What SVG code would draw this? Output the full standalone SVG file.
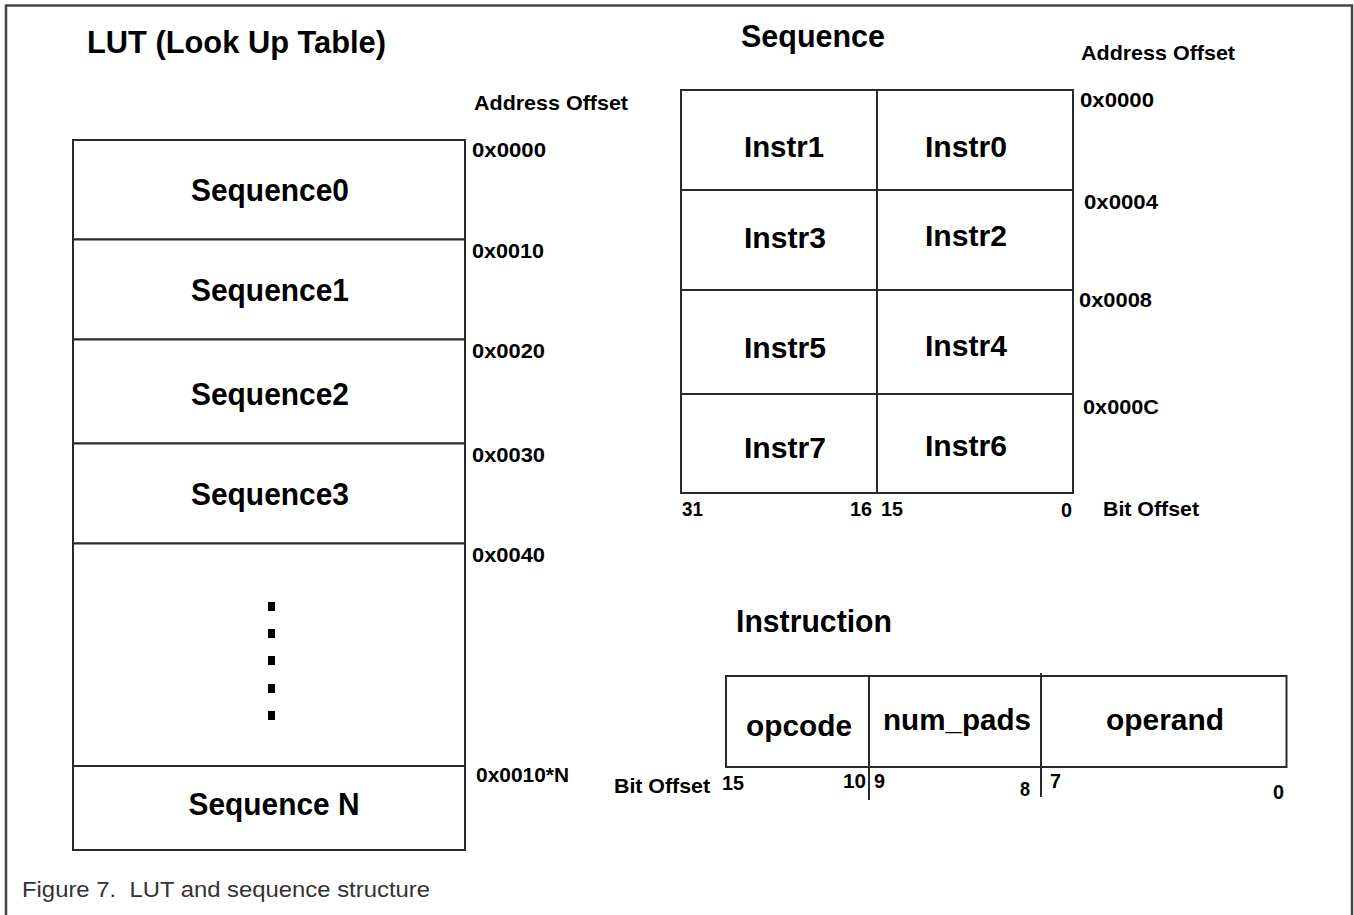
<svg xmlns="http://www.w3.org/2000/svg" width="1354" height="915" viewBox="0 0 1354 915">
<style>
.ln{fill:none;stroke:#2a2a2a;stroke-width:2}
.bx{fill:#fff;stroke:#2a2a2a;stroke-width:2}
.t{font-family:"Liberation Sans",Arial,sans-serif;font-weight:bold;fill:#000}
.big{font-size:31px}
.mid{font-size:30px}
.sm{font-size:20.5px}
.cap{font-family:"Liberation Sans",Arial,sans-serif;font-size:22px;fill:#333}
.dot{fill:#000}
</style>
<rect width="1354" height="915" fill="#fff"/>
<path d="M6,915 V5.5 H1352 V915" fill="none" stroke="#444" stroke-width="2.5"/>

<g id="lut">
  <text class="t big" x="87" y="53" textLength="299" lengthAdjust="spacingAndGlyphs">LUT (Look Up Table)</text>
  <text class="t sm" x="474" y="110" textLength="154" lengthAdjust="spacingAndGlyphs">Address Offset</text>
  <g id="lut-seq0">
    <rect class="bx" x="73" y="140" width="392" height="99.5"/>
    <text class="t big" x="270" y="201" text-anchor="middle" textLength="158" lengthAdjust="spacingAndGlyphs">Sequence0</text>
    <text class="t sm" x="472" y="157" textLength="74" lengthAdjust="spacingAndGlyphs">0x0000</text>
  </g>
  <g id="lut-seq1">
    <rect class="bx" x="73" y="239.5" width="392" height="100"/>
    <text class="t big" x="270" y="301" text-anchor="middle" textLength="158" lengthAdjust="spacingAndGlyphs">Sequence1</text>
    <text class="t sm" x="472" y="258" textLength="72" lengthAdjust="spacingAndGlyphs">0x0010</text>
  </g>
  <g id="lut-seq2">
    <rect class="bx" x="73" y="339.5" width="392" height="104"/>
    <text class="t big" x="270" y="405" text-anchor="middle" textLength="158" lengthAdjust="spacingAndGlyphs">Sequence2</text>
    <text class="t sm" x="472" y="358" textLength="73" lengthAdjust="spacingAndGlyphs">0x0020</text>
  </g>
  <g id="lut-seq3">
    <rect class="bx" x="73" y="443.5" width="392" height="100"/>
    <text class="t big" x="270" y="505" text-anchor="middle" textLength="158" lengthAdjust="spacingAndGlyphs">Sequence3</text>
    <text class="t sm" x="472" y="462" textLength="73" lengthAdjust="spacingAndGlyphs">0x0030</text>
  </g>
  <g id="lut-dots">
    <rect class="bx" x="73" y="543.5" width="392" height="222.5"/>
    <rect class="dot" x="268" y="602" width="7" height="9"/>
    <rect class="dot" x="268" y="629" width="7" height="9"/>
    <rect class="dot" x="268" y="656" width="7" height="9"/>
    <rect class="dot" x="268" y="684" width="7" height="9"/>
    <rect class="dot" x="268" y="711" width="7" height="9"/>
    <text class="t sm" x="472" y="562" textLength="73" lengthAdjust="spacingAndGlyphs">0x0040</text>
  </g>
  <g id="lut-seqN">
    <rect class="bx" x="73" y="766" width="392" height="84"/>
    <text class="t big" x="274" y="815" text-anchor="middle" textLength="171" lengthAdjust="spacingAndGlyphs">Sequence N</text>
    <text class="t sm" x="476" y="782" textLength="93" lengthAdjust="spacingAndGlyphs">0x0010*N</text>
  </g>
</g>

<g id="sequence">
  <text class="t big" x="741" y="47" textLength="144" lengthAdjust="spacingAndGlyphs">Sequence</text>
  <text class="t sm" x="1081" y="60" textLength="154" lengthAdjust="spacingAndGlyphs">Address Offset</text>
  <g id="seq-row0">
    <rect class="bx" x="681" y="90" width="196" height="100"/>
    <rect class="bx" x="877" y="90" width="196" height="100"/>
    <text class="t mid" x="784" y="157" text-anchor="middle" textLength="80" lengthAdjust="spacingAndGlyphs">Instr1</text>
    <text class="t mid" x="966" y="157" text-anchor="middle" textLength="82" lengthAdjust="spacingAndGlyphs">Instr0</text>
    <text class="t sm" x="1080" y="107" textLength="74" lengthAdjust="spacingAndGlyphs">0x0000</text>
  </g>
  <g id="seq-row1">
    <rect class="bx" x="681" y="190" width="196" height="100"/>
    <rect class="bx" x="877" y="190" width="196" height="100"/>
    <text class="t mid" x="785" y="248" text-anchor="middle" textLength="82" lengthAdjust="spacingAndGlyphs">Instr3</text>
    <text class="t mid" x="966" y="246" text-anchor="middle" textLength="82" lengthAdjust="spacingAndGlyphs">Instr2</text>
    <text class="t sm" x="1084" y="209" textLength="74" lengthAdjust="spacingAndGlyphs">0x0004</text>
  </g>
  <g id="seq-row2">
    <rect class="bx" x="681" y="290" width="196" height="104"/>
    <rect class="bx" x="877" y="290" width="196" height="104"/>
    <text class="t mid" x="785" y="358" text-anchor="middle" textLength="82" lengthAdjust="spacingAndGlyphs">Instr5</text>
    <text class="t mid" x="966" y="356" text-anchor="middle" textLength="82" lengthAdjust="spacingAndGlyphs">Instr4</text>
    <text class="t sm" x="1079" y="307" textLength="73" lengthAdjust="spacingAndGlyphs">0x0008</text>
  </g>
  <g id="seq-row3">
    <rect class="bx" x="681" y="394" width="196" height="99"/>
    <rect class="bx" x="877" y="394" width="196" height="99"/>
    <text class="t mid" x="785" y="458" text-anchor="middle" textLength="82" lengthAdjust="spacingAndGlyphs">Instr7</text>
    <text class="t mid" x="966" y="456" text-anchor="middle" textLength="82" lengthAdjust="spacingAndGlyphs">Instr6</text>
    <text class="t sm" x="1083" y="414" textLength="76" lengthAdjust="spacingAndGlyphs">0x000C</text>
  </g>
  <g id="seq-bits">
    <text class="t sm" x="682" y="516" textLength="21" lengthAdjust="spacingAndGlyphs">31</text>
    <text class="t sm" x="850" y="516" textLength="22" lengthAdjust="spacingAndGlyphs">16</text>
    <text class="t sm" x="881" y="516" textLength="22" lengthAdjust="spacingAndGlyphs">15</text>
    <text class="t sm" x="1061" y="517" textLength="11" lengthAdjust="spacingAndGlyphs">0</text>
    <text class="t sm" x="1103" y="516" textLength="96" lengthAdjust="spacingAndGlyphs">Bit Offset</text>
  </g>
</g>

<g id="instruction">
  <text class="t big" x="736" y="632" textLength="156" lengthAdjust="spacingAndGlyphs">Instruction</text>
  <rect class="bx" x="726" y="676" width="560.5" height="91"/>
  <g id="instr-opcode">
    <text class="t mid" x="746" y="736" textLength="106" lengthAdjust="spacingAndGlyphs">opcode</text>
  </g>
  <g id="instr-numpads">
    <text class="t mid" x="883" y="730" textLength="148" lengthAdjust="spacingAndGlyphs">num_pads</text>
  </g>
  <g id="instr-operand">
    <text class="t mid" x="1106" y="730" textLength="118" lengthAdjust="spacingAndGlyphs">operand</text>
  </g>
  <g id="instr-bits">
    <text class="t sm" x="614" y="793" textLength="96" lengthAdjust="spacingAndGlyphs">Bit Offset</text>
    <text class="t sm" x="722" y="790" textLength="22" lengthAdjust="spacingAndGlyphs">15</text>
    <text class="t sm" x="843" y="788" textLength="23" lengthAdjust="spacingAndGlyphs">10</text>
    <text class="t sm" x="874" y="788" textLength="11" lengthAdjust="spacingAndGlyphs">9</text>
    <text class="t sm" x="1020" y="796" textLength="10" lengthAdjust="spacingAndGlyphs">8</text>
    <text class="t sm" x="1050" y="788" textLength="11" lengthAdjust="spacingAndGlyphs">7</text>
    <text class="t sm" x="1273" y="799" textLength="11" lengthAdjust="spacingAndGlyphs">0</text>
  </g>
</g>

<g id="connectors">
  <line class="ln" x1="869" y1="675" x2="869" y2="800"/>
  <line class="ln" x1="1041" y1="673" x2="1041" y2="797"/>
</g>

<text class="cap" x="22" y="897" textLength="408" lengthAdjust="spacingAndGlyphs" xml:space="preserve">Figure 7.  LUT and sequence structure</text>
</svg>
